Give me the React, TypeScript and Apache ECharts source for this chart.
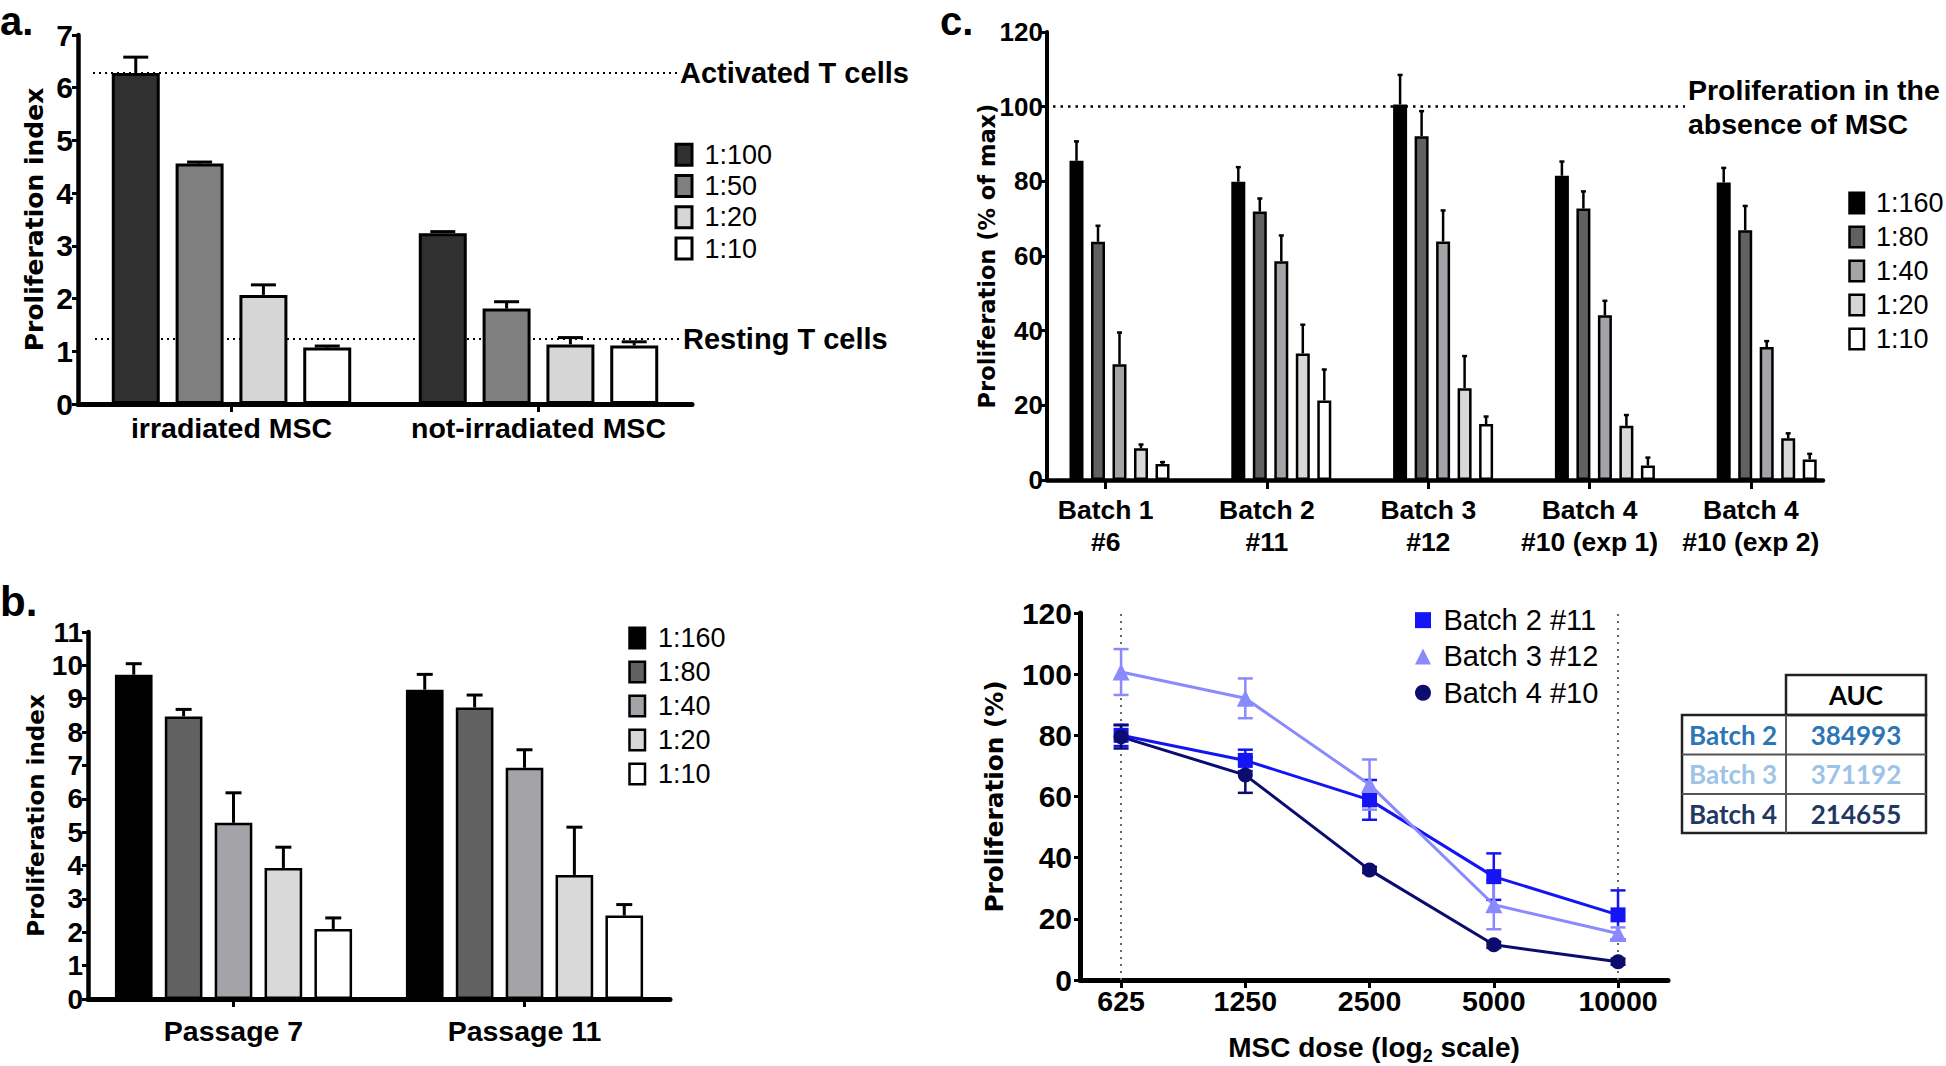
import React, { useEffect, useRef } from 'react';
import * as echarts from 'echarts';

// ---------- Panel a ----------
const aCategories = ['irradiated MSC', 'not-irradiated MSC'];
const aRatios = ['1:100', '1:50', '1:20', '1:10'];
const aColors = ['#303030', '#808080', '#d6d6d6', '#ffffff'];
const aValues = [[6.28, 3.24], [4.56, 1.81], [2.07, 1.13], [1.07, 1.11]];
const aErrors = [[0.3, 0.03], [0.03, 0.13], [0.19, 0.13], [0.03, 0.07]];
const aActivated = 6.28;
const aResting = 1.23;

// ---------- Panel b ----------
const bCategories = ['Passage 7', 'Passage 11'];
const bRatios = ['1:160', '1:80', '1:40', '1:20', '1:10'];
const bcColors = ['#000000', '#616161', '#a3a3a8', '#d9d9d9', '#ffffff'];
const bValues = [[9.72, 9.27], [8.47, 8.74], [5.28, 6.93], [3.93, 3.72], [2.1, 2.5]];
const bErrors = [[0.33, 0.46], [0.21, 0.37], [0.9, 0.54], [0.62, 1.43], [0.33, 0.33]];

// ---------- Panel c (bars) ----------
const cCategories = ['Batch 1\n#6', 'Batch 2\n#11', 'Batch 3\n#12', 'Batch 4\n#10 (exp 1)', 'Batch 4\n#10 (exp 2)'];
const cValues = [
  [85.5, 79.9, 100.6, 81.5, 79.7],
  [63.8, 71.9, 92.1, 72.7, 66.9],
  [31.0, 58.6, 63.9, 44.1, 35.6],
  [8.5, 33.9, 24.6, 14.5, 11.2],
  [4.3, 21.3, 15.0, 3.9, 5.5],
];
const cErrors = [
  [5.2, 3.9, 7.9, 3.8, 3.9],
  [4.3, 3.5, 6.7, 4.6, 6.5],
  [8.5, 6.9, 8.3, 3.9, 1.6],
  [1.0, 7.7, 8.6, 2.9, 1.3],
  [0.5, 8.3, 2.0, 2.1, 1.5],
];
const cNoMSC = 100;

// ---------- Panel c (lines) ----------
const doses = [625, 1250, 2500, 5000, 10000];
const lineNames = ['Batch 2 #11', 'Batch 3 #12', 'Batch 4 #10'];
const lineColors = ['#1414f5', '#8a8aff', '#0c0c6e'];
const lineSymbols = ['rect', 'triangle', 'circle'];
const lineSymbolSizes = [15, 17, 15];
const lineValues = [
  [80.0, 71.8, 58.9, 33.8, 21.3],
  [100.7, 92.1, 63.9, 24.6, 15.2],
  [79.5, 67.0, 36.0, 11.5, 6.0],
];
const lineErrors = [
  [3.5, 3.5, 6.5, 7.6, 8.0],
  [7.5, 6.5, 8.2, 8.0, 2.0],
  [3.8, 5.8, 1.0, 1.0, 1.0],
];

// ---------- AUC table ----------
const aucHeader = 'AUC';
const aucBatches = ['Batch 2', 'Batch 3', 'Batch 4'];
const aucValues = ['384993', '371192', '214655'];
const aucColors = ['#2e75b6', '#9dc3e6', '#1f3864'];

const SANS = 'Liberation Sans';
const TITLE = 'DejaVu Sans';

function barSeries(names: string[], colors: string[], values: number[][], axis: number, catGap: number, barGap: number, bw: number, extra: any = {}) {
  return names.map((name, i) => ({
    type: 'bar',
    name,
    xAxisIndex: axis,
    yAxisIndex: axis,
    data: values[i],
    barGap: barGap * 100 + '%',
    barCategoryGap: catGap * 100 + '%',
    itemStyle: { color: colors[i], borderColor: '#000', borderWidth: bw },
    z: 2,
    silent: true,
    ...(i === 0 ? extra : {}),
  }));
}

function barErrorSeries(axis: number, values: number[][], errors: number[][], catGap: number, barGap: number, cap: number, lw: number) {
  const n = values.length;
  const data: number[][] = [];
  values.forEach((row, si) => row.forEach((v, ci) => data.push([ci, si, v, errors[si][ci]])));
  return {
    type: 'custom',
    xAxisIndex: axis,
    yAxisIndex: axis,
    z: 3,
    silent: true,
    clip: false,
    encode: { x: 0, y: 2 },
    data,
    renderItem: (params: any, api: any) => {
      const ci = api.value(0);
      const si = api.value(1);
      const v = api.value(2);
      const e = api.value(3);
      const p0 = api.coord([ci, v]);
      const p1 = api.coord([ci, v + e]);
      const band = api.size([1, 0])[0];
      const gw = band * (1 - catGap);
      const w = gw / (n + (n - 1) * barGap);
      const x = p0[0] - gw / 2 + si * w * (1 + barGap) + w / 2;
      const style = { stroke: '#000', lineWidth: lw };
      return {
        type: 'group',
        children: [
          { type: 'line', shape: { x1: x, y1: p0[1], x2: x, y2: p1[1] }, style },
          { type: 'line', shape: { x1: x - cap / 2, y1: p1[1], x2: x + cap / 2, y2: p1[1] }, style },
        ],
      };
    },
  };
}

function lineErrorSeries(idx: number, axis: number) {
  const color = lineColors[idx];
  return {
    type: 'custom',
    xAxisIndex: axis,
    yAxisIndex: axis,
    z: 3,
    silent: true,
    clip: false,
    encode: { x: 0, y: 1 },
    data: doses.map((d, i) => [d, lineValues[idx][i], lineErrors[idx][i]]),
    renderItem: (params: any, api: any) => {
      const x = api.value(0);
      const v = api.value(1);
      const e = api.value(2);
      const top = api.coord([x, v + e]);
      const bot = api.coord([x, v - e]);
      const cap = 15;
      const style = { stroke: color, lineWidth: 2.5 };
      return {
        type: 'group',
        children: [
          { type: 'line', shape: { x1: top[0], y1: top[1], x2: bot[0], y2: bot[1] }, style },
          { type: 'line', shape: { x1: top[0] - cap / 2, y1: top[1], x2: top[0] + cap / 2, y2: top[1] }, style },
          { type: 'line', shape: { x1: bot[0] - cap / 2, y1: bot[1], x2: bot[0] + cap / 2, y2: bot[1] }, style },
        ],
      };
    },
  };
}

function valueY(grid: number, max: number, interval: number, name: string, nameGap: number, nameSize: number, labelSize: number, margin: number, lw: number, show = true) {
  return {
    type: 'value',
    gridIndex: grid,
    min: 0,
    max,
    interval,
    show,
    name,
    nameLocation: 'middle',
    nameRotate: 90,
    nameGap,
    nameMoveOverlap: false,
    nameTextStyle: { fontFamily: TITLE, fontWeight: 'bold', fontSize: nameSize, color: '#000' },
    axisLine: { show: true, lineStyle: { color: '#000', width: lw } },
    axisTick: { show: true, length: 6, lineStyle: { color: '#000', width: 3 } },
    axisLabel: { show: true, fontFamily: SANS, fontWeight: 'bold', fontSize: labelSize, color: '#000', margin },
    splitLine: { show: false },
  };
}

function legendBox(names: any[], left: number, top: number, iw: number, ih: number, bw: number, lh: number, pad: number, fs: number) {
  return {
    orient: 'vertical',
    left,
    top,
    padding: 0,
    itemGap: 0,
    itemWidth: iw,
    itemHeight: ih,
    icon: 'rect',
    selectedMode: false,
    data: names,
    itemStyle: { borderColor: '#000', borderWidth: bw },
    textStyle: { fontFamily: SANS, fontSize: fs, color: '#000', lineHeight: lh, padding: [0, 0, 0, pad] },
  };
}

const A_CAT = 0.22, A_GAP = 0.33;
const B_CAT = 0.185, B_GAP = 0.325;
const C_CAT = 0.382, C_GAP = 0.536;

const dotted = (color: string, w: number, dash: number[]) => ({ type: dash, color, width: w });

const catLabel = (fontSize: number, margin: number, extra: any = {}) => ({
  interval: 0, fontFamily: SANS, fontWeight: 'bold', fontSize, color: '#000', margin, ...extra,
});

const option: any = {
  animation: false,
  backgroundColor: '#ffffff',
  textStyle: { fontFamily: SANS },
  grid: [
    { left: 78, top: 35, width: 614, height: 369, outerBoundsMode: 'none', containLabel: false },
    { left: 88, top: 632, width: 582, height: 367, outerBoundsMode: 'none', containLabel: false },
    { left: 1038.6, top: 32, width: 809, height: 448, outerBoundsMode: 'none', containLabel: false },
    { left: 1047, top: 32, width: 776, height: 448, outerBoundsMode: 'none', containLabel: false },
    { left: 1025, top: 32, width: 806.5, height: 448, outerBoundsMode: 'none', containLabel: false },
    { left: 1080, top: 613, width: 588, height: 367, outerBoundsMode: 'none', containLabel: false },
  ],
  xAxis: [
    {
      type: 'category', gridIndex: 0, data: aCategories,
      axisLine: { lineStyle: { color: '#000', width: 5 } },
      axisTick: { show: true, alignWithLabel: true, length: 8, lineStyle: { color: '#000', width: 3 } },
      axisLabel: catLabel(28.5, 9),
      splitLine: { show: false },
    },
    {
      type: 'category', gridIndex: 1, data: bCategories,
      axisLine: { lineStyle: { color: '#000', width: 5 } },
      axisTick: { show: true, alignWithLabel: true, length: 8, lineStyle: { color: '#000', width: 3 } },
      axisLabel: catLabel(28.5, 17),
      splitLine: { show: false },
    },
    { type: 'category', gridIndex: 2, data: cCategories, show: false },
    {
      type: 'category', gridIndex: 3, data: cCategories,
      axisLine: { show: true, lineStyle: { color: '#000', width: 4.5 } },
      axisTick: { show: false }, axisLabel: { show: false }, splitLine: { show: false },
    },
    {
      type: 'category', gridIndex: 4, data: cCategories,
      axisLine: { show: false },
      axisTick: { show: true, alignWithLabel: true, length: 9, lineStyle: { color: '#000', width: 3 } },
      axisLabel: catLabel(26.5, 14, { lineHeight: 32 }),
      splitLine: { show: false },
    },
    {
      type: 'log', logBase: 2, gridIndex: 5, min: 497, max: 13216,
      name: '{t|MSC dose (log}{s|2}{t| scale)}',
      nameLocation: 'middle', nameGap: 49, nameMoveOverlap: false,
      nameTextStyle: {
        color: '#000',
        rich: {
          t: { fontFamily: SANS, fontWeight: 'bold', fontSize: 28, color: '#000' },
          s: { fontFamily: SANS, fontWeight: 'bold', fontSize: 18, color: '#000', padding: [18, 0, 0, 0] },
        },
      },
      axisLine: { show: true, lineStyle: { color: '#000', width: 5 } },
      axisTick: { show: true, customValues: doses, length: 8, lineStyle: { color: '#000', width: 3 } },
      axisLabel: { show: true, customValues: doses, formatter: (v: number) => String(Math.round(v)), fontFamily: SANS, fontWeight: 'bold', fontSize: 28.5, color: '#000', margin: 6 },
      minorTick: { show: false },
      splitLine: { show: false },
    },
  ],
  yAxis: [
    valueY(0, 7, 1, 'Proliferation index', 31, 25, 30, 5, 4.5),
    valueY(1, 11, 1, 'Proliferation index', 41, 23, 28, 5, 4.5),
    { ...valueY(2, 120, 20, '', 0, 10, 10, 5, 1), show: false },
    valueY(3, 120, 20, 'Proliferation (% of max)', 49, 22.5, 26, 4, 4),
    { ...valueY(4, 120, 20, '', 0, 10, 10, 5, 1), show: false },
    valueY(5, 120, 20, 'Proliferation (%)', 73, 24.8, 30, 8, 5),
  ],
  legend: [
    legendBox(aRatios, 674.5, 139, 16, 21, 3, 31.3, 7.5, 27),
    legendBox(bRatios, 628.25, 621, 15.5, 20.5, 2.5, 34, 8, 27),
    legendBox(bRatios, 1848.25, 186, 14.5, 20.5, 2.5, 34, 7, 27),
    {
      orient: 'vertical', left: 1415, top: 602, padding: 0, itemGap: 0,
      itemWidth: 16, itemHeight: 16, selectedMode: false,
      data: lineNames.map((n, i) => ({ name: n, icon: lineSymbols[i] })),
      itemStyle: { borderWidth: 0 },
      textStyle: { fontFamily: SANS, fontSize: 29, color: '#000', lineHeight: 36.3, padding: [0, 0, 0, 7.5] },
    },
  ],
  series: [
    ...barSeries(aRatios, aColors, aValues, 0, A_CAT, A_GAP, 3, {
      markLine: {
        silent: true, symbol: 'none', z: 1,
        lineStyle: dotted('#000', 2, [2, 4]),
        label: { show: true, position: 'end', distance: 3, formatter: '{b}', color: '#000', fontFamily: SANS, fontWeight: 'bold', fontSize: 29 },
        data: [
          [{ name: 'Activated T cells', x: 93, yAxis: aActivated }, { x: 677, yAxis: aActivated }],
          [{ name: 'Resting T cells', x: 95, yAxis: aResting }, { x: 680, yAxis: aResting }],
        ],
      },
    }),
    barErrorSeries(0, aValues, aErrors, A_CAT, A_GAP, 25, 3),
    ...barSeries(bRatios, bcColors, bValues, 1, B_CAT, B_GAP, 2.5),
    barErrorSeries(1, bValues, bErrors, B_CAT, B_GAP, 16, 3),
    ...barSeries(bRatios, bcColors, cValues, 2, C_CAT, C_GAP, 2.5, {
      markLine: {
        silent: true, symbol: 'none', z: 1,
        lineStyle: dotted('#000', 2.5, [2.5, 5]),
        label: { show: true, position: 'end', distance: 3, formatter: '{b}', color: '#000', fontFamily: SANS, fontWeight: 'bold', fontSize: 28.5, lineHeight: 34 },
        data: [
          [{ name: 'Proliferation in the\nabsence of MSC', x: 1053, yAxis: cNoMSC }, { x: 1685, yAxis: cNoMSC }],
        ],
      },
    }),
    barErrorSeries(2, cValues, cErrors, C_CAT, C_GAP, 5, 2.5),
    ...lineNames.map((name, i) => ({
      type: 'line',
      name,
      xAxisIndex: 5,
      yAxisIndex: 5,
      data: doses.map((d, j) => [d, lineValues[i][j]]),
      symbol: lineSymbols[i],
      symbolSize: lineSymbolSizes[i],
      showSymbol: true,
      lineStyle: { color: lineColors[i], width: 3 },
      itemStyle: { color: lineColors[i] },
      z: 4,
      silent: true,
      ...(i === 0
        ? {
            markLine: {
              silent: true, symbol: 'none', z: 1,
              lineStyle: dotted('#666', 2, [2, 5]),
              label: { show: false },
              data: [{ xAxis: doses[0] }, { xAxis: doses[doses.length - 1] }],
            },
          }
        : {}),
    })),
    ...lineNames.map((_, i) => lineErrorSeries(i, 5)),
  ],
  graphic: [
    { type: 'text', x: 0, y: 21, style: { text: 'a.', fill: '#000', fontFamily: SANS, fontWeight: 'bold', fontSize: 40, textAlign: 'left', textVerticalAlign: 'middle' } },
    { type: 'text', x: 0, y: 601, style: { text: 'b.', fill: '#000', fontFamily: SANS, fontWeight: 'bold', fontSize: 42, textAlign: 'left', textVerticalAlign: 'middle' } },
    { type: 'text', x: 940, y: 21, style: { text: 'c.', fill: '#000', fontFamily: SANS, fontWeight: 'bold', fontSize: 40, textAlign: 'left', textVerticalAlign: 'middle' } },
    { type: 'rect', shape: { x: 1786, y: 675, width: 140, height: 40 }, style: { fill: 'none', stroke: '#222', lineWidth: 2.5 } },
    { type: 'rect', shape: { x: 1682, y: 715, width: 244, height: 118 }, style: { fill: 'none', stroke: '#222', lineWidth: 2.5 } },
    { type: 'line', shape: { x1: 1682, y1: 754.5, x2: 1926, y2: 754.5 }, style: { stroke: '#555', lineWidth: 2 } },
    { type: 'line', shape: { x1: 1682, y1: 794, x2: 1926, y2: 794 }, style: { stroke: '#555', lineWidth: 2 } },
    { type: 'line', shape: { x1: 1786, y1: 715, x2: 1786, y2: 833 }, style: { stroke: '#555', lineWidth: 2 } },
    { type: 'text', x: 1856, y: 695, style: { text: aucHeader, fill: '#000', fontFamily: 'Lato', fontWeight: 'bold', fontSize: 26, textAlign: 'center', textVerticalAlign: 'middle' } },
    ...aucBatches.map((b, i) => ({
      type: 'text', x: 1689, y: 735 + i * 39.3,
      style: { text: b, fill: aucColors[i], fontFamily: 'Lato', fontWeight: 'bold', fontSize: 26, textAlign: 'left', textVerticalAlign: 'middle' },
    })),
    ...aucValues.map((v, i) => ({
      type: 'text', x: 1856, y: 735 + i * 39.3,
      style: { text: v, fill: aucColors[i], fontFamily: 'Lato', fontWeight: 'bold', fontSize: 26, textAlign: 'center', textVerticalAlign: 'middle' },
    })),
  ],
};

export default function App() {
  const ref = useRef<HTMLDivElement>(null);
  useEffect(() => {
    document.body.style.margin = '0';
    const chart = echarts.init(ref.current as HTMLDivElement, null, { renderer: 'svg' });
    chart.setOption(option);
    return () => chart.dispose();
  }, []);
  return <div ref={ref} style={{ width: 1946, height: 1066, background: '#ffffff' }} />;
}
